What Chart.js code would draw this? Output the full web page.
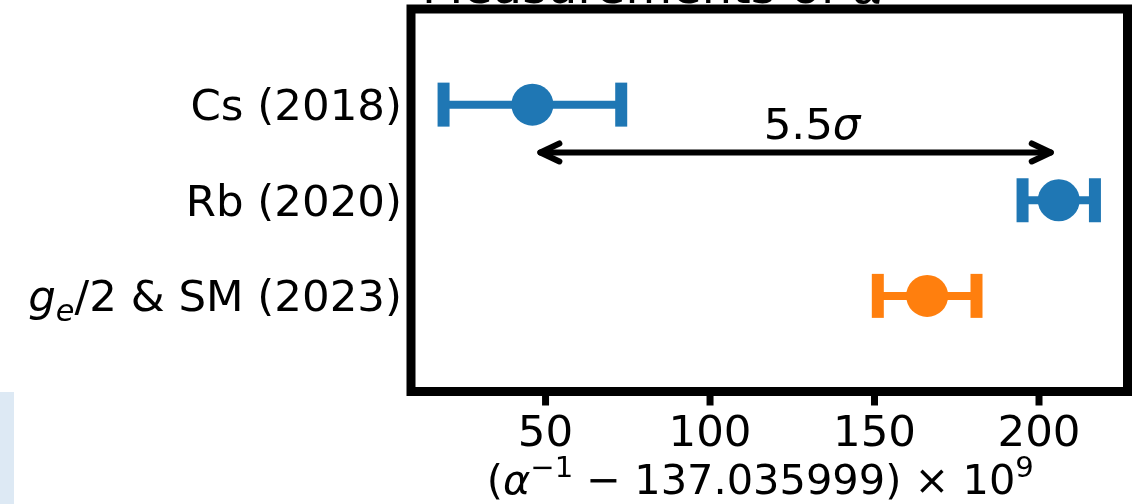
<!DOCTYPE html>
<html><head><meta charset="utf-8">
<script src="https://cdn.jsdelivr.net/npm/chart.js@4.4.0/dist/chart.umd.min.js"></script>
<style>
html,body{margin:0;padding:0;background:#fff;overflow:hidden}
#wrap{position:relative;width:1135px;height:504px}
#band{position:absolute;left:0;top:392px;width:14px;height:112px;background:#dde9f4}
canvas{position:absolute;left:0;top:0}
</style></head><body>
<div id="wrap"><div id="band"></div><canvas id="c" width="1135" height="504"></canvas></div>
<script>
// ---- data ----
const categories = ['Cs (2018)', 'Rb (2020)', 'g_e/2 & SM (2023)'];
const centers = [46, 206, 166];
const uncertainties = [27, 11, 15];
const pointColors = ['#1f77b4', '#1f77b4', '#ff7f0e'];
const xTicks = [50, 100, 150, 200];
const xRange = [9.1, 226.9];
const yRange = [-1, 3];
const arrowEnds = [46, 206];
const arrowY = 0.5;
const arrowText = ['5.5', 'σ'];
const arrowTextPos = [131, 0.36];
const titleText = ['Measurements of ', 'α'];
const xLabelParts = ['(', 'α', '−1', ' − 137.035999) × 10', '9'];

const FS = 43.5;
const FAM = '"DejaVu Sans"';
function font(p){ return (p.it ? 'italic ' : '') + (FS * (p.s || 1) * (p.base || 1)).toFixed(1) + 'px ' + FAM; }
function richWidth(ctx, parts){ let w = 0; parts.forEach(p => { ctx.font = font(p); w += ctx.measureText(p.t).width; }); return w; }
function drawRich(ctx, parts, x, y, align){
  const w = richWidth(ctx, parts);
  let cx = align === 'right' ? x - w : align === 'center' ? x - w / 2 : x;
  ctx.textAlign = 'left'; ctx.textBaseline = 'alphabetic';
  parts.forEach(p => {
    ctx.font = font(p);
    ctx.fillText(p.t, cx, y + (p.dy || 0) * FS * (p.base || 1));
    cx += ctx.measureText(p.t).width;
  });
}
function labelParts(str){
  const m = str.match(/^(\w)_(\w)(.*)$/);
  if (m) return [{t: m[1], it: true}, {t: m[2], it: true, s: 0.7, dy: 0.22}, {t: m[3]}];
  return [{t: str}];
}

const overlay = {
  id: 'overlay',
  beforeDatasetsDraw(chart){
    const {ctx, scales: {x, y}} = chart;
    ctx.save();
    centers.forEach((c, i) => {
      const py = y.getPixelForValue(i);
      const x0 = x.getPixelForValue(c - uncertainties[i]);
      const x1 = x.getPixelForValue(c + uncertainties[i]);
      ctx.strokeStyle = pointColors[i];
      ctx.lineCap = 'butt';
      ctx.lineWidth = 8;
      ctx.beginPath(); ctx.moveTo(x0, py); ctx.lineTo(x1, py); ctx.stroke();
      ctx.lineWidth = 12;
      [x0, x1].forEach(px => { ctx.beginPath(); ctx.moveTo(px, py - 22); ctx.lineTo(px, py + 22); ctx.stroke(); });
    });
    ctx.restore();
  },
  afterDraw(chart){
    const {ctx, chartArea: a, scales: {x, y}} = chart;
    ctx.save();
    ctx.fillStyle = '#000'; ctx.strokeStyle = '#000';
    // frame
    ctx.lineWidth = 9; ctx.lineJoin = 'miter';
    ctx.strokeRect(a.left, a.top, a.right - a.left, a.bottom - a.top);
    // x ticks + labels
    ctx.lineWidth = 7; ctx.lineCap = 'butt';
    xTicks.forEach(v => {
      const px = x.getPixelForValue(v);
      ctx.beginPath(); ctx.moveTo(px, a.bottom + 4.5); ctx.lineTo(px, a.bottom + 14); ctx.stroke();
      drawRich(ctx, [{t: String(v)}], px, 446, 'center');
    });
    // x axis label
    const k = 0.955;
    const xl = [{t: xLabelParts[0], s: k}, {t: xLabelParts[1], it: true, s: k}, {t: xLabelParts[2], s: 0.7 * k, dy: -0.4},
                {t: xLabelParts[3], s: k}, {t: xLabelParts[4], s: 0.7 * k, dy: -0.4}];
    drawRich(ctx, xl, (a.left + a.right) / 2 - 9, 494, 'center');
    // category labels
    categories.forEach((c, i) => {
      drawRich(ctx, labelParts(c), a.left - 9, y.getPixelForValue(i) + 15.5, 'right');
    });
    // arrow
    const ay = y.getPixelForValue(arrowY);
    const xa = x.getPixelForValue(arrowEnds[0]) + 8;
    const xb = x.getPixelForValue(arrowEnds[1]) - 8;
    ctx.lineWidth = 6; ctx.lineCap = 'round'; ctx.lineJoin = 'round';
    ctx.beginPath(); ctx.moveTo(xa, ay); ctx.lineTo(xb, ay); ctx.stroke();
    ctx.beginPath(); ctx.moveTo(xa + 19, ay - 9); ctx.lineTo(xa, ay); ctx.lineTo(xa + 19, ay + 9); ctx.stroke();
    ctx.beginPath(); ctx.moveTo(xb - 19, ay - 9); ctx.lineTo(xb, ay); ctx.lineTo(xb - 19, ay + 9); ctx.stroke();
    drawRich(ctx, [{t: arrowText[0]}, {t: arrowText[1], it: true}],
             x.getPixelForValue(arrowTextPos[0]), y.getPixelForValue(arrowTextPos[1]), 'center');
    // title (cut off at top)
    drawRich(ctx, [{t: titleText[0], base: 1.1}, {t: titleText[1], it: true, base: 1.1}], 422, 3, 'left');
    ctx.restore();
  }
};

new Chart(document.getElementById('c'), {
  type: 'scatter',
  data: {
    datasets: [{
      data: centers.map((c, i) => ({x: c, y: i})),
      pointRadius: 21,
      pointHoverRadius: 21,
      pointBackgroundColor: pointColors,
      pointBorderWidth: 0,
      borderWidth: 0,
      clip: false
    }]
  },
  options: {
    responsive: false,
    animation: false,
    events: [],
    layout: {autoPadding: false, padding: {left: 411, right: 7.5, top: 9, bottom: 112.5}},
    plugins: {legend: {display: false}, tooltip: {enabled: false}, title: {display: false}},
    scales: {
      x: {type: 'linear', min: xRange[0], max: xRange[1], display: false},
      y: {type: 'linear', min: yRange[0], max: yRange[1], reverse: true, display: false}
    }
  },
  plugins: [overlay]
});
</script>
</body></html>
